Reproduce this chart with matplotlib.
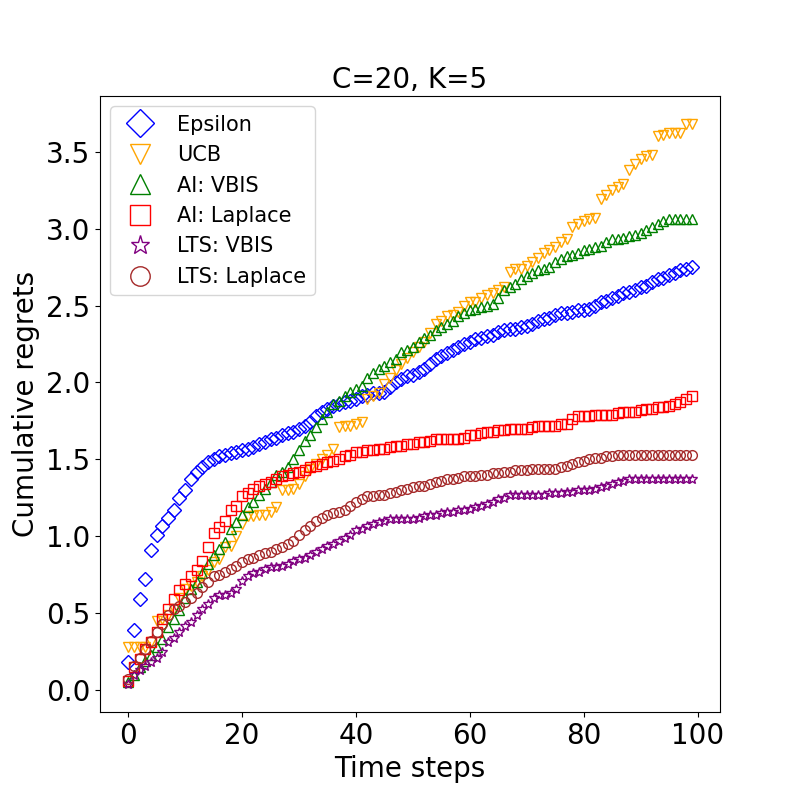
import matplotlib
matplotlib.use("Agg")
import matplotlib.pyplot as plt
import numpy as np

steps = list(range(100))

epsilon = [
    0.18, 0.39, 0.59, 0.72, 0.91, 1.01, 1.07, 1.12, 1.17, 1.25,
    1.30, 1.37, 1.42, 1.45, 1.48, 1.50, 1.52, 1.53, 1.54, 1.55,
    1.56, 1.57, 1.58, 1.60, 1.61, 1.63, 1.64, 1.66, 1.67, 1.68,
    1.70, 1.72, 1.74, 1.78, 1.81, 1.83, 1.85, 1.86, 1.87, 1.88,
    1.89, 1.91, 1.92, 1.93, 1.93, 1.94, 1.97, 2.00, 2.02, 2.04,
    2.05, 2.07, 2.09, 2.12, 2.15, 2.17, 2.19, 2.21, 2.23, 2.25,
    2.26, 2.28, 2.29, 2.30, 2.31, 2.33, 2.34, 2.35, 2.35, 2.36,
    2.37, 2.38, 2.40, 2.41, 2.42, 2.44, 2.45, 2.45, 2.46, 2.47,
    2.47, 2.48, 2.50, 2.52, 2.53, 2.55, 2.56, 2.58, 2.59, 2.60,
    2.62, 2.63, 2.65, 2.67, 2.68, 2.70, 2.71, 2.73, 2.74, 2.75,
]

ucb = [
    0.28, 0.28, 0.28, 0.28, 0.31, 0.45, 0.46, 0.49, 0.53, 0.60,
    0.66, 0.68, 0.70, 0.74, 0.78, 0.83, 0.85, 0.93, 0.94, 1.00,
    1.08, 1.13, 1.13, 1.14, 1.14, 1.16, 1.19, 1.30, 1.30, 1.31,
    1.34, 1.39, 1.44, 1.47, 1.50, 1.53, 1.57, 1.71, 1.72, 1.72,
    1.73, 1.74, 1.89, 1.91, 1.93, 1.99, 2.03, 2.08, 2.12, 2.16,
    2.20, 2.23, 2.26, 2.32, 2.38, 2.40, 2.43, 2.44, 2.46, 2.50,
    2.52, 2.52, 2.55, 2.57, 2.58, 2.60, 2.62, 2.72, 2.74, 2.74,
    2.76, 2.78, 2.81, 2.84, 2.86, 2.88, 2.91, 2.93, 3.01, 3.03,
    3.05, 3.06, 3.07, 3.19, 3.22, 3.25, 3.27, 3.29, 3.38, 3.42,
    3.45, 3.47, 3.48, 3.60, 3.61, 3.62, 3.62, 3.62, 3.68, 3.68,
]

ai_vbis = [
    0.05, 0.10, 0.15, 0.19, 0.23, 0.28, 0.33, 0.41, 0.46, 0.52,
    0.60, 0.66, 0.70, 0.76, 0.82, 0.88, 0.92, 0.96, 1.05, 1.09,
    1.14, 1.19, 1.22, 1.27, 1.31, 1.35, 1.40, 1.42, 1.45, 1.50,
    1.56, 1.62, 1.66, 1.71, 1.76, 1.81, 1.86, 1.88, 1.91, 1.94,
    1.96, 1.98, 2.03, 2.06, 2.09, 2.11, 2.13, 2.15, 2.20, 2.21,
    2.23, 2.26, 2.29, 2.31, 2.34, 2.36, 2.38, 2.40, 2.43, 2.45,
    2.47, 2.48, 2.49, 2.50, 2.51, 2.55, 2.60, 2.62, 2.64, 2.67,
    2.69, 2.71, 2.73, 2.74, 2.75, 2.78, 2.80, 2.82, 2.83, 2.84,
    2.86, 2.87, 2.88, 2.89, 2.91, 2.93, 2.93, 2.94, 2.95, 2.96,
    2.97, 2.99, 3.01, 3.03, 3.05, 3.06, 3.06, 3.06, 3.06, 3.06,
]

ai_laplace = [
    0.06, 0.15, 0.20, 0.27, 0.31, 0.38, 0.46, 0.53, 0.59, 0.65,
    0.69, 0.74, 0.78, 0.84, 0.93, 1.02, 1.06, 1.10, 1.17, 1.20,
    1.26, 1.28, 1.31, 1.33, 1.34, 1.35, 1.37, 1.39, 1.40, 1.41,
    1.42, 1.43, 1.45, 1.46, 1.47, 1.48, 1.49, 1.50, 1.52, 1.53,
    1.55, 1.55, 1.56, 1.56, 1.57, 1.57, 1.58, 1.59, 1.59, 1.60,
    1.60, 1.61, 1.61, 1.62, 1.63, 1.63, 1.63, 1.63, 1.63, 1.64,
    1.66, 1.66, 1.67, 1.68, 1.68, 1.69, 1.69, 1.70, 1.70, 1.70,
    1.70, 1.71, 1.72, 1.72, 1.72, 1.72, 1.73, 1.73, 1.76, 1.78,
    1.78, 1.78, 1.79, 1.79, 1.79, 1.79, 1.80, 1.81, 1.81, 1.81,
    1.82, 1.83, 1.83, 1.84, 1.84, 1.85, 1.86, 1.87, 1.89, 1.91,
]

lts_vbis = [
    0.04, 0.10, 0.13, 0.16, 0.18, 0.21, 0.25, 0.31, 0.34, 0.38,
    0.42, 0.44, 0.49, 0.53, 0.56, 0.60, 0.62, 0.62, 0.63, 0.66,
    0.71, 0.74, 0.76, 0.77, 0.79, 0.80, 0.80, 0.81, 0.82, 0.84,
    0.85, 0.86, 0.88, 0.90, 0.92, 0.94, 0.95, 0.97, 0.99, 1.01,
    1.04, 1.05, 1.07, 1.08, 1.09, 1.10, 1.11, 1.11, 1.11, 1.11,
    1.11, 1.12, 1.13, 1.14, 1.14, 1.15, 1.16, 1.16, 1.17, 1.17,
    1.18, 1.19, 1.20, 1.21, 1.22, 1.24, 1.25, 1.27, 1.27, 1.27,
    1.27, 1.27, 1.27, 1.27, 1.28, 1.28, 1.28, 1.29, 1.29, 1.30,
    1.30, 1.30, 1.31, 1.32, 1.33, 1.34, 1.35, 1.36, 1.37, 1.37,
    1.37, 1.37, 1.37, 1.37, 1.37, 1.37, 1.37, 1.37, 1.37, 1.37,
]

lts_laplace = [
    0.07, 0.16, 0.21, 0.27, 0.32, 0.38, 0.43, 0.49, 0.53, 0.55,
    0.57, 0.60, 0.63, 0.67, 0.70, 0.74, 0.75, 0.77, 0.79, 0.81,
    0.83, 0.85, 0.86, 0.88, 0.89, 0.90, 0.92, 0.93, 0.95, 0.97,
    1.01, 1.04, 1.07, 1.10, 1.12, 1.14, 1.15, 1.16, 1.17, 1.20,
    1.22, 1.24, 1.26, 1.26, 1.27, 1.27, 1.28, 1.29, 1.30, 1.31,
    1.32, 1.33, 1.33, 1.34, 1.35, 1.36, 1.37, 1.37, 1.38, 1.39,
    1.39, 1.39, 1.40, 1.40, 1.41, 1.41, 1.42, 1.42, 1.43, 1.43,
    1.43, 1.44, 1.44, 1.44, 1.44, 1.44, 1.45, 1.46, 1.47, 1.48,
    1.49, 1.50, 1.51, 1.51, 1.52, 1.52, 1.53, 1.53, 1.53, 1.53,
    1.53, 1.53, 1.53, 1.53, 1.53, 1.53, 1.53, 1.53, 1.53, 1.53,
]

labels = ["Epsilon", "UCB", "AI: VBIS", "AI: Laplace", "LTS: VBIS", "LTS: Laplace"]
series = [epsilon, ucb, ai_vbis, ai_laplace, lts_vbis, lts_laplace]
colors = ["blue", "orange", "green", "red", "purple", "brown"]
markers = ["D", "v", "^", "s", "*", "o"]

fig, ax = plt.subplots(figsize=(8, 8), dpi=100)
for vals, lab, col, mk in zip(series, labels, colors, markers):
    ax.plot(steps, vals, linestyle="none", marker=mk, markersize=7,
            markerfacecolor="none", markeredgecolor=col, label=lab)

ax.set_title("C=20, K=5", fontsize=20)
ax.set_xlabel("Time steps", fontsize=20)
ax.set_ylabel("Cumulative regrets", fontsize=20)
ax.tick_params(labelsize=20)
ax.set_xticks([0, 20, 40, 60, 80, 100])
ax.legend(loc="upper left", fontsize=15, markerscale=2)
fig.savefig("out.png", dpi=100)
